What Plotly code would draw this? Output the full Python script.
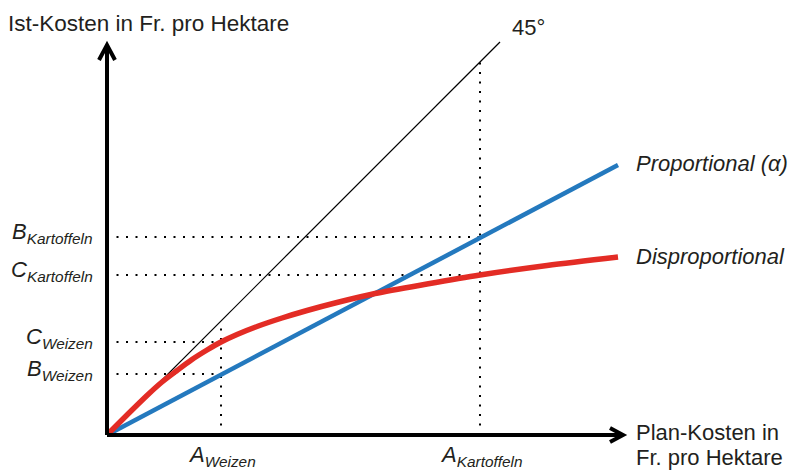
import plotly.graph_objects as go

# ---- data (equal units on both axes; origin = 0 plan / 0 actual cost) ----
plan_weizen = 114          # A_Weizen
plan_kartoffeln = 373      # A_Kartoffeln
b_weizen = 61              # B_Weizen (proportional)
c_weizen = 93              # C_Weizen (disproportional)
b_kartoffeln = 198         # B_Kartoffeln (proportional)
c_kartoffeln = 160         # C_Kartoffeln (disproportional)

line45_x = [0, 393]
line45_y = [0, 393]

prop_x = [0, 511]
prop_y = [0, 270]

disp_x = [0, 20, 40, 55, 70, 85, 100, 114, 130, 150, 175, 200, 230, 268, 320, 373, 440, 511]
disp_y = [0, 20, 39.5, 53, 64.5, 75.5, 85, 93, 100.5, 108.5, 117, 124.5, 132.5, 141.5, 151, 160, 169.5, 178]

x_axis_end = 516
y_axis_end = 390

y_labels = ["B<sub>Kartoffeln</sub>", "C<sub>Kartoffeln</sub>",
            "C<sub>Weizen</sub>", "B<sub>Weizen</sub>"]
y_label_vals = [b_kartoffeln, c_kartoffeln, c_weizen, b_weizen]
x_labels = ["A<sub>Weizen</sub>", "A<sub>Kartoffeln</sub>"]
x_label_vals = [plan_weizen, plan_kartoffeln]

RED = "#e32c25"
BLUE = "#2479be"
TXT = "#231f20"
FONT = "Liberation Sans, Arial, sans-serif"
FS = 22

fig = go.Figure()

dot = dict(color="black", width=2, dash="2px,7.5px")
# vertical guides up to the 45-degree line
for a in [plan_weizen, plan_kartoffeln]:
    fig.add_trace(go.Scatter(x=[a, a], y=[0, a], mode="lines", line=dot,
                             hoverinfo="skip", showlegend=False))
# horizontal guides
for yv, a in [(b_weizen, plan_weizen), (c_weizen, plan_weizen),
              (b_kartoffeln, plan_kartoffeln), (c_kartoffeln, plan_kartoffeln)]:
    fig.add_trace(go.Scatter(x=[0, a], y=[yv, yv], mode="lines", line=dot,
                             hoverinfo="skip", showlegend=False))

fig.add_trace(go.Scatter(x=line45_x, y=line45_y, mode="lines",
                         line=dict(color="black", width=1.2), showlegend=False))
fig.add_trace(go.Scatter(x=prop_x, y=prop_y, mode="lines",
                         line=dict(color=BLUE, width=4.5), showlegend=False))
fig.add_trace(go.Scatter(x=disp_x, y=disp_y, mode="lines",
                         line=dict(color=RED, width=5.5, shape="spline", smoothing=0.8),
                         showlegend=False))

# axes with open arrow heads
ax = dict(color="black", width=4)
fig.add_shape(type="line", x0=0, y0=0, x1=x_axis_end, y1=0, line=ax)
fig.add_shape(type="line", x0=0, y0=0, x1=0, y1=y_axis_end, line=ax)
fig.add_shape(type="path",
              path=f"M {x_axis_end-13},7 L {x_axis_end},0 L {x_axis_end-13},-7",
              line=ax)
fig.add_shape(type="path",
              path=f"M -8,{y_axis_end-15} L 0,{y_axis_end} L 8,{y_axis_end-15}",
              line=ax)

def ann(text, x, y, xanchor="center", yanchor="middle", size=FS, align="left"):
    fig.add_annotation(text=text, x=x, y=y, xref="x", yref="y", showarrow=False,
                       xanchor=xanchor, yanchor=yanchor, align=align,
                       font=dict(family=FONT, size=size, color=TXT))

for t, v in zip(y_labels, y_label_vals):
    ann(f"<i>{t}</i>", -12, v + 4, xanchor="right")
for t, v in zip(x_labels, x_label_vals):
    ann(f"<i>{t}</i>", v + 1, -21)

ann("<i>Proportional (α)</i>", prop_x[-1] + 16, prop_y[-1] + 2, xanchor="left")
ann("<i>Disproportional</i>", disp_x[-1] + 16, disp_y[-1] + 1, xanchor="left")
ann("Plan-Kosten in", x_axis_end + 11, 3, xanchor="left")
ann("Fr. pro Hektare", x_axis_end + 11, -22, xanchor="left")
ann("Ist-Kosten in Fr. pro Hektare", -101, 412, xanchor="left", size=22.5)
ann("45°", line45_x[-1] + 28, 408)

fig.update_layout(
    width=793, height=470, autosize=False,
    margin=dict(l=0, r=0, t=0, b=0),
    paper_bgcolor="white", plot_bgcolor="white",
    xaxis=dict(range=[-107, 686], visible=False, fixedrange=True),
    yaxis=dict(range=[-35, 435], visible=False, fixedrange=True),
    showlegend=False,
)

fig.write_html("out.html", config={"displayModeBar": False},
               post_script="document.body.style.margin='0';")
